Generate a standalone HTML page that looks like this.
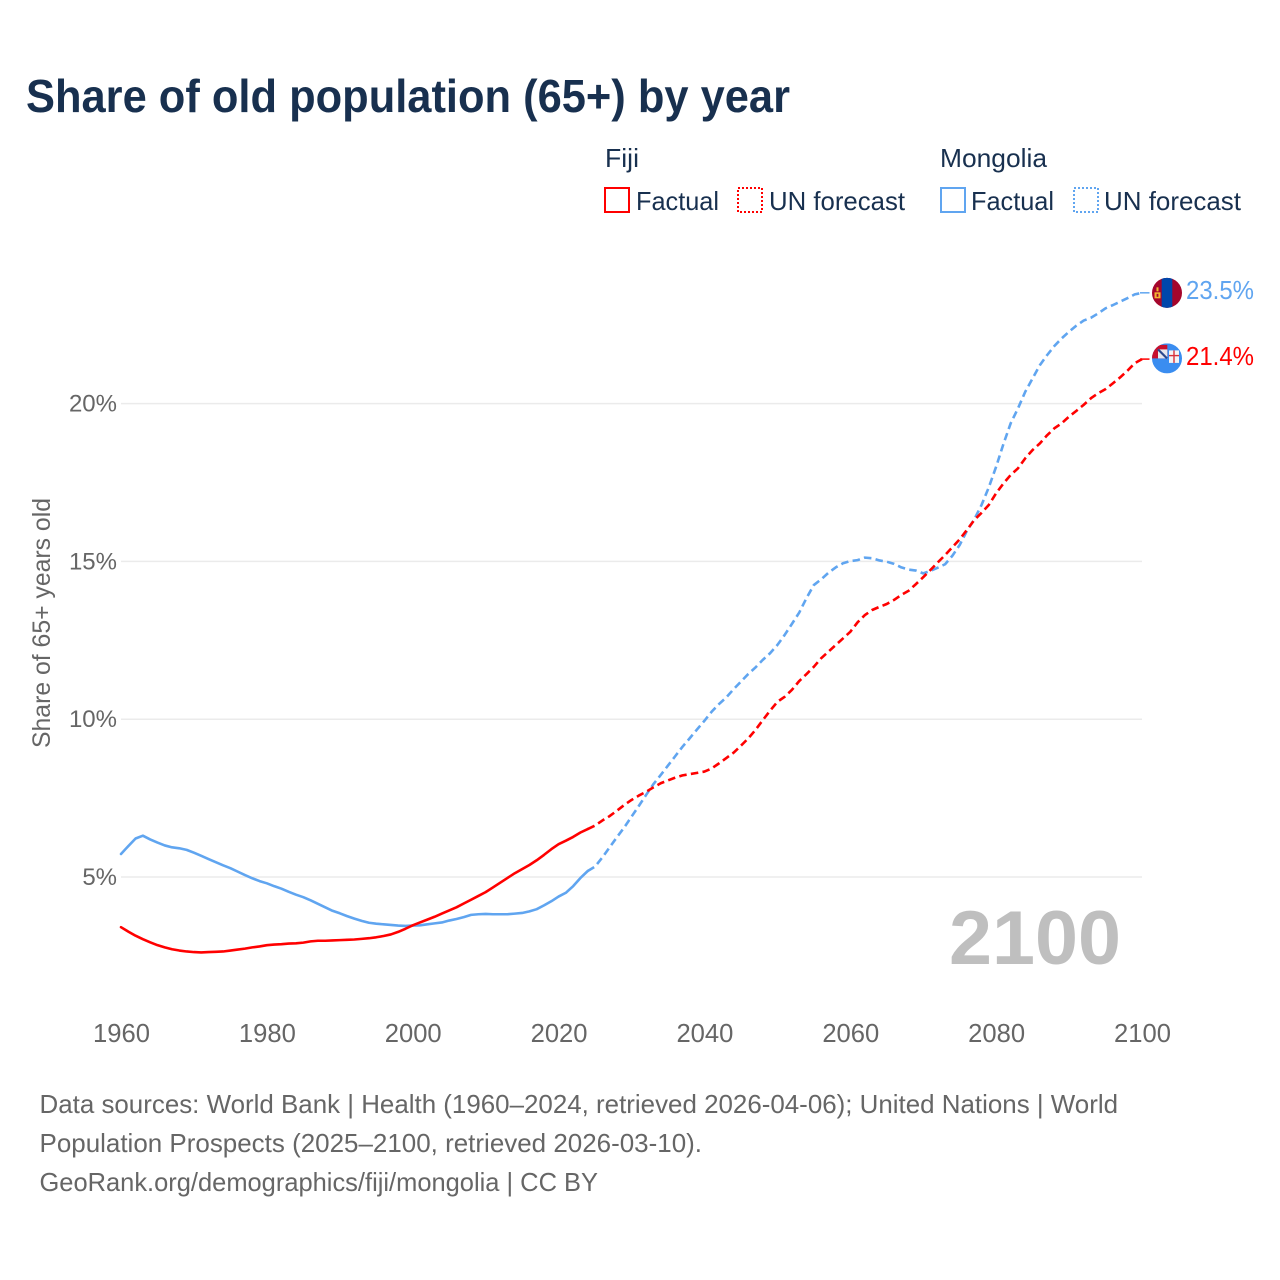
<!DOCTYPE html>
<html lang="en">
<head>
<meta charset="utf-8">
<title>Share of old population (65+) by year</title>
<style>
  html, body { margin: 0; padding: 0; background: #fff; }
  svg { display: block; }
  text { font-family: "Liberation Sans", sans-serif; }
</style>
</head>
<body>
<svg id="chart" xmlns="http://www.w3.org/2000/svg" width="1280" height="1280" viewBox="0 0 1280 1280">
  <defs>
    <clipPath id="clip-mongolia"><circle cx="1167" cy="292.5" r="15"/></clipPath>
    <clipPath id="clip-fiji"><circle cx="1167" cy="359" r="15"/></clipPath>
  </defs>
  <rect width="1280" height="1280" fill="#fff"/>

  <text x="26" y="112" font-size="46" font-weight="700" fill="#18304f" textLength="764" lengthAdjust="spacingAndGlyphs">Share of old population (65+) by year</text>

  <g font-size="26" fill="#18304f">
    <text x="605" y="167" textLength="34" lengthAdjust="spacingAndGlyphs">Fiji</text>
    <rect x="605" y="188" width="24" height="24" fill="none" stroke="#ff0000" stroke-width="2"/>
    <text x="636" y="210" textLength="83" lengthAdjust="spacingAndGlyphs">Factual</text>
    <rect x="738" y="188" width="24" height="24" fill="none" stroke="#ff0000" stroke-width="2" stroke-dasharray="2 2"/>
    <text x="769" y="210" textLength="136" lengthAdjust="spacingAndGlyphs">UN forecast</text>
    <text x="940" y="167" textLength="107" lengthAdjust="spacingAndGlyphs">Mongolia</text>
    <rect x="941" y="188" width="24" height="24" fill="none" stroke="#60a5f0" stroke-width="2"/>
    <text x="971" y="210" textLength="83" lengthAdjust="spacingAndGlyphs">Factual</text>
    <rect x="1074" y="188" width="24" height="24" fill="none" stroke="#60a5f0" stroke-width="2" stroke-dasharray="2 2"/>
    <text x="1104" y="210" textLength="137" lengthAdjust="spacingAndGlyphs">UN forecast</text>
  </g>

  <text transform="translate(50 748) rotate(-90)" font-size="25" fill="#666" textLength="250" lengthAdjust="spacingAndGlyphs">Share of 65+ years old</text>

  <g id="grid"></g>
  <g id="y-ticks"></g>
  <g id="x-ticks"></g>

  <text x="949" y="964" font-size="76" font-weight="700" fill="#bfbfbf" textLength="172" lengthAdjust="spacingAndGlyphs">2100</text>

  <g id="series"></g>
  <g id="end-markers"></g>

  <g font-size="26" fill="#666">
    <text x="39.5" y="1113" textLength="1078.5" lengthAdjust="spacingAndGlyphs">Data sources: World Bank | Health (1960–2024, retrieved 2026-04-06); United Nations | World</text>
    <text x="39.5" y="1152" textLength="662.5" lengthAdjust="spacingAndGlyphs">Population Prospects (2025–2100, retrieved 2026-03-10).</text>
    <text x="39.5" y="1191" textLength="558.5" lengthAdjust="spacingAndGlyphs">GeoRank.org/demographics/fiji/mongolia | CC BY</text>
  </g>
</svg>

<script>
const xTickYears = [1960, 1980, 2000, 2020, 2040, 2060, 2080, 2100];
const yTickValues = [5, 10, 15, 20];
const factualStartYear = 1960;
const forecastStartYear = 2024;

const fijiFactual = [3.41,3.27,3.14,3.03,2.93,2.84,2.77,2.71,2.67,2.64,2.62,2.61,2.62,2.63,2.64,2.67,2.70,2.73,2.77,2.80,2.84,2.86,2.87,2.89,2.90,2.92,2.96,2.98,2.98,2.99,3.00,3.01,3.02,3.04,3.06,3.09,3.13,3.18,3.26,3.36,3.47,3.56,3.65,3.74,3.84,3.94,4.04,4.16,4.28,4.40,4.52,4.67,4.82,4.97,5.12,5.25,5.38,5.53,5.70,5.88,6.04,6.15,6.27,6.41,6.52];

const fijiForecast = [6.52,6.63,6.79,6.93,7.10,7.28,7.44,7.58,7.70,7.84,7.97,8.06,8.15,8.22,8.26,8.30,8.34,8.44,8.60,8.77,8.94,9.16,9.39,9.66,9.97,10.27,10.55,10.71,10.93,11.21,11.43,11.66,11.93,12.14,12.35,12.56,12.77,13.07,13.30,13.46,13.56,13.65,13.78,13.94,14.07,14.28,14.50,14.73,14.97,15.20,15.45,15.70,16.00,16.31,16.54,16.79,17.16,17.47,17.74,17.95,18.27,18.53,18.74,19.00,19.22,19.38,19.59,19.77,19.96,20.17,20.33,20.46,20.64,20.83,21.04,21.28,21.41];

const mongoliaFactual = [5.73,5.98,6.22,6.31,6.19,6.09,6.00,5.94,5.91,5.86,5.77,5.67,5.57,5.47,5.37,5.28,5.17,5.06,4.96,4.87,4.80,4.71,4.63,4.53,4.44,4.36,4.26,4.15,4.04,3.93,3.85,3.76,3.68,3.61,3.55,3.52,3.50,3.48,3.46,3.45,3.46,3.47,3.50,3.53,3.56,3.62,3.67,3.73,3.80,3.82,3.83,3.82,3.82,3.82,3.84,3.86,3.91,3.98,4.10,4.23,4.38,4.50,4.71,4.97,5.19];

const mongoliaForecast = [5.19,5.33,5.62,5.94,6.26,6.57,6.91,7.25,7.60,7.94,8.23,8.53,8.83,9.13,9.40,9.68,9.95,10.24,10.48,10.69,10.95,11.19,11.43,11.64,11.88,12.09,12.35,12.67,13.02,13.38,13.84,14.25,14.43,14.64,14.81,14.94,15.01,15.04,15.12,15.10,15.03,14.99,14.92,14.81,14.74,14.71,14.62,14.70,14.80,14.91,15.18,15.52,15.97,16.33,16.79,17.35,18.00,18.72,19.38,19.85,20.38,20.80,21.22,21.54,21.83,22.07,22.28,22.47,22.63,22.72,22.86,23.02,23.12,23.23,23.34,23.46,23.51];

const NS = 'http://www.w3.org/2000/svg';
const RED = '#ff0000';
const BLUE = '#60a5f0';

function xScale(year) { return 121 + (year - 1960) * (1142 - 121) / 140; }
function yScale(value) { return 1034.8 - value * 31.56; }

function make(tag, attrs, parent, content) {
  const el = document.createElementNS(NS, tag);
  for (const key in attrs) el.setAttribute(key, attrs[key]);
  if (content !== undefined) el.textContent = content;
  parent.appendChild(el);
  return el;
}

function linePoints(values, startYear) {
  return values.map(function (v, i) {
    return xScale(startYear + i).toFixed(2) + ',' + yScale(v).toFixed(2);
  }).join(' ');
}

const gridGroup = document.getElementById('grid');
const yTickGroup = document.getElementById('y-ticks');
const xTickGroup = document.getElementById('x-ticks');
const seriesGroup = document.getElementById('series');

yTickValues.forEach(function (v) {
  const line = make('line', { x1: xScale(1960), x2: xScale(2100), y1: yScale(v), y2: yScale(v), stroke: '#ebebeb', 'stroke-width': 1.5 }, gridGroup);
  
  
  const label = make('text', { x: 117, y: yScale(v) + 8, 'text-anchor': 'end', 'font-size': 24, fill: '#666' }, yTickGroup, v + '%');
  
  
});

xTickYears.forEach(function (year) {
  const label = make('text', { x: xScale(year) + 0.5, y: 1042, 'text-anchor': 'middle', 'font-size': 25.6, fill: '#666' }, xTickGroup, String(year));
  
  
});

const mongoliaFactualLine = make('polyline', { points: linePoints(mongoliaFactual, factualStartYear), fill: 'none', stroke: BLUE, 'stroke-width': 2.6, 'stroke-linejoin': 'round', 'stroke-linecap': 'round' }, seriesGroup);



const fijiFactualLine = make('polyline', { points: linePoints(fijiFactual, factualStartYear), fill: 'none', stroke: RED, 'stroke-width': 2.6, 'stroke-linejoin': 'round', 'stroke-linecap': 'round' }, seriesGroup);



const mongoliaForecastLine = make('polyline', { points: linePoints(mongoliaForecast, forecastStartYear), fill: 'none', stroke: BLUE, 'stroke-width': 2.6, 'stroke-dasharray': '7.5 4.3', 'stroke-linejoin': 'round' }, seriesGroup);



const fijiForecastLine = make('polyline', { points: linePoints(fijiForecast, forecastStartYear), fill: 'none', stroke: RED, 'stroke-width': 2.6, 'stroke-dasharray': '7.5 4.3', 'stroke-linejoin': 'round' }, seriesGroup);



const markers = document.getElementById('end-markers');
const mongoliaEnd = mongoliaForecast[mongoliaForecast.length - 1];
const fijiEnd = fijiForecast[fijiForecast.length - 1];
const flagX = xScale(2100) + 25;

const mongoliaConnector = make('line', { x1: xScale(2100) - 2, x2: xScale(2100) + 7.5, y1: yScale(mongoliaEnd), y2: yScale(mongoliaEnd), stroke: BLUE, 'stroke-width': 1.5 }, markers);



const fijiConnector = make('line', { x1: xScale(2100) - 2, x2: xScale(2100) + 7.5, y1: yScale(fijiEnd), y2: yScale(fijiEnd), stroke: RED, 'stroke-width': 1.5 }, markers);



const mongoliaFlag = make('g', { 'clip-path': 'url(#clip-mongolia)', transform: 'translate(' + (flagX - 1167) + ' ' + (yScale(mongoliaEnd) - 292.5) + ')' }, markers);


make('rect', { x: 1152, y: 277, width: 30, height: 31, fill: '#a5062c' }, mongoliaFlag);
make('rect', { x: 1161.7, y: 277, width: 10.6, height: 31, fill: '#0047ab' }, mongoliaFlag);
make('rect', { x: 1154.5, y: 292, width: 6, height: 6, fill: '#f2b632' }, mongoliaFlag);
make('rect', { x: 1156.5, y: 287, width: 2, height: 4, fill: '#f2b632' }, mongoliaFlag);
make('rect', { x: 1156.6, y: 293.5, width: 1.8, height: 3, fill: '#a5062c' }, mongoliaFlag);

const mongoliaLabel = make('text', { x: 1186, y: yScale(mongoliaEnd) + 6, 'font-size': 26, fill: BLUE, textLength: 68, lengthAdjust: 'spacingAndGlyphs' }, markers, mongoliaEnd.toFixed(1) + '%');



const fijiFlag = make('g', { 'clip-path': 'url(#clip-fiji)', transform: 'translate(' + (flagX - 1167) + ' ' + (yScale(fijiEnd) - 359.7) + ')' }, markers);


make('rect', { x: 1152, y: 344, width: 30, height: 30, fill: '#3a8df0' }, fijiFlag);
make('rect', { x: 1152, y: 345.5, width: 15.3, height: 13.5, fill: '#c8102e' }, fijiFlag);
make('rect', { x: 1158, y: 350, width: 9.3, height: 9, fill: '#e8e8ee' }, fijiFlag);
make('line', { x1: 1158, y1: 350, x2: 1167, y2: 359, stroke: '#2b4a8f', 'stroke-width': 2.2 }, fijiFlag);
make('rect', { x: 1169, y: 351, width: 10, height: 12.5, fill: '#f4f4f4' }, fijiFlag);
make('rect', { x: 1173.3, y: 351, width: 1.4, height: 12.5, fill: '#d8313a' }, fijiFlag);
make('rect', { x: 1169, y: 355.5, width: 10, height: 1.4, fill: '#d8313a' }, fijiFlag);

const fijiLabel = make('text', { x: 1186, y: yScale(fijiEnd) + 6, 'font-size': 26, fill: RED, textLength: 68, lengthAdjust: 'spacingAndGlyphs' }, markers, fijiEnd.toFixed(1) + '%');


</script>
</body>
</html>
